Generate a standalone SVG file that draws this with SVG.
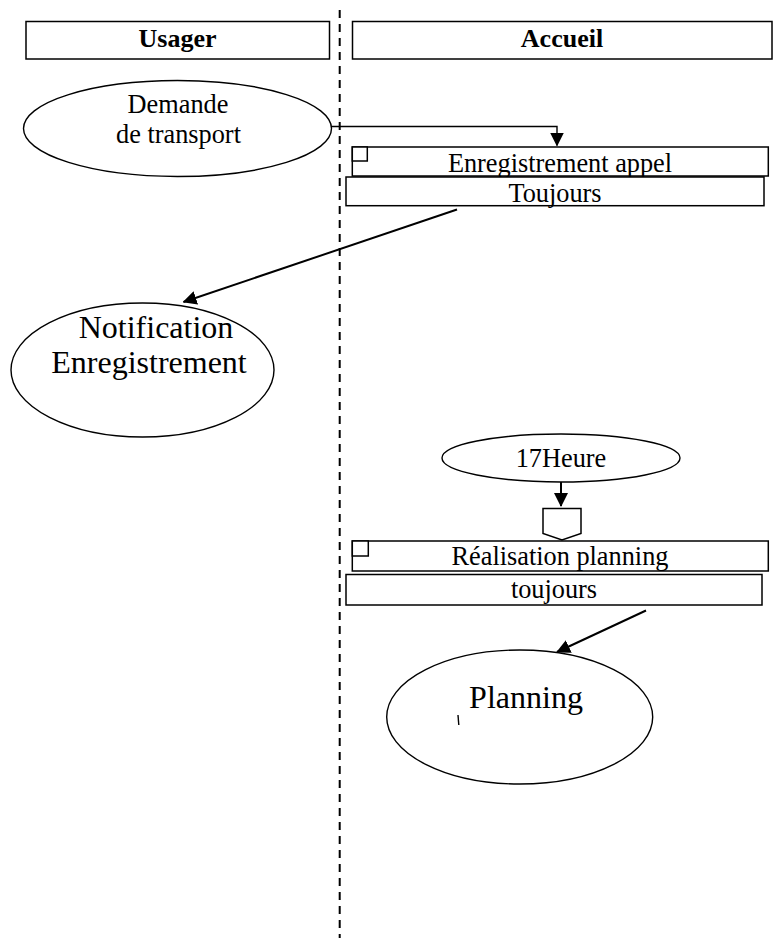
<svg xmlns="http://www.w3.org/2000/svg" width="773" height="938" viewBox="0 0 773 938">
<style>
  .box { fill: #fff; stroke: #000; stroke-width: 1.5; }
  .ell { fill: #fff; stroke: #000; stroke-width: 1.4; }
  .t { font-family: "Liberation Serif", "Times New Roman", serif; fill: #000; text-anchor: middle; }
  .h { font-weight: bold; font-size: 26px; }
  .n { font-size: 26.3px; }
  .big { font-size: 32px; }
  .conn { fill: none; stroke: #000; stroke-width: 2; }
  .thin { stroke-width: 1.4; }
</style>
<defs>
  <marker id="arr" viewBox="0 0 14 14" refX="13" refY="7" markerWidth="14" markerHeight="14" markerUnits="userSpaceOnUse" orient="auto">
    <path d="M0,0 L14,7 L0,14 z" fill="#000"/>
  </marker>
</defs>
<rect width="773" height="938" fill="#fff"/>

<g id="swimlane-divider">
  <line x1="339.7" y1="10" x2="339.7" y2="938" stroke="#000" stroke-width="2" stroke-dasharray="8 6"/>
</g>

<g id="lane-usager">
  <rect class="box" x="26" y="21.5" width="303.5" height="37.5"/>
  <text class="t h" x="177.5" y="47">Usager</text>
</g>
<g id="lane-accueil">
  <rect class="box" x="352.5" y="21.5" width="419.5" height="37.5"/>
  <text class="t h" x="562" y="47">Accueil</text>
</g>

<g id="demande-transport">
  <ellipse class="ell" cx="177.5" cy="128.5" rx="154" ry="48"/>
  <text class="t n" x="178" y="113">Demande</text>
  <text class="t n" x="178.5" y="143">de transport</text>
</g>

<g id="enregistrement-appel">
  <rect class="box" x="352.3" y="147" width="416" height="29"/>
  <rect class="box" x="352.3" y="147" width="15" height="14"/>
  <text class="t n" x="560" y="172">Enregistrement appel</text>
</g>
<g id="toujours-1">
  <rect class="box" x="346" y="177" width="418" height="28.7"/>
  <text class="t n" x="555" y="201.5">Toujours</text>
</g>

<g id="notification-enregistrement">
  <ellipse class="ell" cx="142.5" cy="370" rx="131.5" ry="67"/>
  <text class="t big" x="156" y="338">Notification</text>
  <text class="t big" x="149" y="373">Enregistrement</text>
</g>

<g id="heure-17">
  <ellipse class="ell" cx="561" cy="458" rx="119" ry="24"/>
  <text class="t n" x="561" y="467">17Heure</text>
</g>

<g id="offpage-connector">
  <polygon class="box" points="543,508.5 581,508.5 581,533.5 562,540 543,533.5"/>
</g>

<g id="realisation-planning">
  <rect class="box" x="352.3" y="541" width="416" height="30"/>
  <rect class="box" x="352.3" y="541" width="16" height="15"/>
  <text class="t n" x="560" y="565">Réalisation planning</text>
</g>
<g id="toujours-2">
  <rect class="box" x="346" y="574.5" width="416" height="30.5"/>
  <text class="t n" x="554" y="598">toujours</text>
</g>

<g id="planning">
  <ellipse class="ell" cx="519.7" cy="717" rx="133" ry="67"/>
  <text class="t big" x="526" y="708">Planning</text>
  <line x1="458" y1="715" x2="458.8" y2="725" stroke="#000" stroke-width="1.4"/>
</g>

<g id="connectors">
  <path class="conn thin" d="M331,126.5 H557 V145.5" marker-end="url(#arr)"/>
  <line class="conn" x1="457" y1="209.5" x2="183.5" y2="302" marker-end="url(#arr)"/>
  <line class="conn" x1="561" y1="482" x2="561" y2="506" marker-end="url(#arr)"/>
  <line class="conn" x1="646" y1="610.5" x2="557" y2="652" marker-end="url(#arr)"/>
</g>
</svg>
